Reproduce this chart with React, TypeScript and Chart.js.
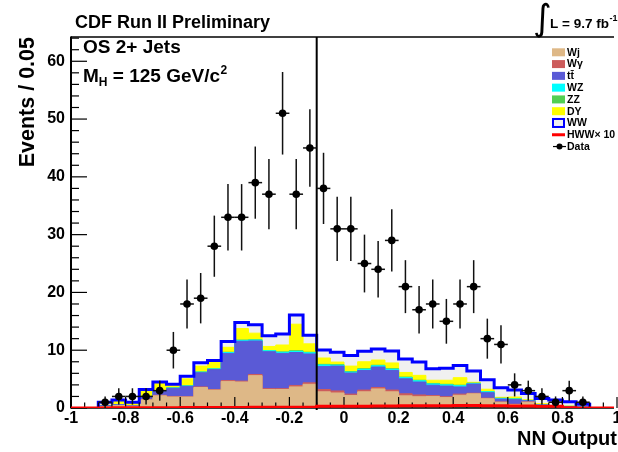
import React, { useEffect, useRef } from 'react';
import { Chart, registerables } from 'chart.js';

Chart.register(...registerables);

const FONT = "'Liberation Sans', Arial, Helvetica, sans-serif";

// ---- binning ----
const BIN_WIDTH = 0.05;
const STACK_FIRST_EDGE = -0.9; // left edge of first background bin
const HWW_FIRST_EDGE = -1.0;
const DATA_FIRST_CENTER = -0.875;
const CUT_VALUE = -0.1;

// ---- background expectations (events per bin), bins from -0.9 to 0.9 ----
const wjEvents = [0.2, 0.4, 0.3, 1.4, 2.1, 1.9, 1.9, 3.55, 3.1, 4.6, 4.5, 5.6, 3.2, 3.2, 3.65, 4.1, 2.8, 2.6, 2.15, 2.8, 3.3, 2.8, 2.1, 1.95, 2.0, 1.8, 2.2, 2.45, 1.6, 1.0, 0.6, 1.0, 0.2, 0.1, 0.1, 0.05];
const wgEvents = [0, 0.03, 0, 0.05, 0.1, 0.1, 0.05, 0.1, 0.1, 0.15, 0.15, 0.2, 0.15, 0.15, 0.25, 0.25, 0.4, 0.35, 0.25, 0.3, 0.25, 0.3, 0.35, 0.3, 0.15, 0.15, 0.2, 0.1, 0.1, 0.05, 0.05, 0.05, 0.02, 0, 0, 0];
const ttEvents = [0.2, 0.15, 0.1, 0.5, 0.7, 1.4, 1.8, 2.45, 3.45, 4.7, 6.9, 5.8, 6.4, 6.1, 5.7, 5.0, 4.0, 4.3, 3.65, 3.4, 3.55, 3.4, 2.6, 2.25, 1.8, 1.85, 1.25, 1.6, 0.95, 0.5, 0.8, 0.2, 0.3, 0.2, 0.15, 0.1];
const wzEvents = [0, 0, 0, 0.05, 0.05, 0.05, 0.05, 0.1, 0.1, 0.15, 0.15, 0.15, 0.15, 0.2, 0.2, 0.2, 0.25, 0.15, 0.15, 0.2, 0.2, 0.2, 0.2, 0.2, 0.2, 0.2, 0.2, 0.1, 0.15, 0.1, 0.1, 0.05, 0.05, 0.02, 0.02, 0.1];
const zzEvents = [0, 0, 0, 0.02, 0.05, 0.05, 0.05, 0.05, 0.05, 0.05, 0.05, 0.05, 0.05, 0.05, 0.1, 0.1, 0.1, 0.1, 0.1, 0.1, 0.1, 0.1, 0.1, 0.1, 0.1, 0.1, 0.1, 0.05, 0.05, 0.05, 0.05, 0.02, 0.03, 0.02, 0.02, 0.02];
const dyEvents = [0.1, 0.65, 0.4, 1.0, 1.3, 0.4, 1.2, 1.0, 1.2, 0.85, 2.0, 1.15, 0.7, 1.2, 4.6, 1.45, 1.1, 0.45, 0.95, 1.2, 0.9, 1.0, 0.8, 0.85, 0.55, 0.7, 1.3, 0.15, 0.4, 0.15, 0.3, 0.1, 0.15, 0.05, 0.05, 0];
const wwEvents = [0.5, 0.17, 0.2, 0.18, 0.2, 0.2, 0.45, 0.6, 0.2, 1.0, 1.05, 1.45, 1.85, 1.9, 1.6, 1.5, 1.4, 1.7, 1.85, 1.8, 1.9, 2.05, 2.35, 2.3, 2.0, 2.1, 2.1, 1.95, 1.65, 1.65, 1.2, 1.08, 0.91, 0.98, 0.75, 0.36];

// ---- signal x10, bins from -1 to 1 ----
const hwwX10Events = [0, 0, 0.02, 0.03, 0.03, 0.05, 0.06, 0.06, 0.07, 0.08, 0.08, 0.1, 0.1, 0.12, 0.12, 0.12, 0.15, 0.15, 0.3, 0.3, 0.3, 0.32, 0.33, 0.35, 0.38, 0.38, 0.4, 0.4, 0.42, 0.42, 0.4, 0.38, 0.35, 0.35, 0.3, 0.3, 0.03, 0.02, 0, 0];

// ---- observed data, bin centers from -0.875 ----
const dataEvents = [1, 2, 2, 2, 3, 10, 18, 19, 28, 33, 33, 39, 37, 51, 37, 45, 38, 31, 31, 25, 24, 29, 21, 17, 18, 15, 18, 21, 12, 11, 4, 3, 2, 1, 3, 1];

// ---- axes ----
const X_MIN = -1;
const X_MAX = 0.989; // plot is cut at the right border of the picture
const Y_MAX = 64.2;
const xTickValues = [-1, -0.8, -0.6, -0.4, -0.2, 0, 0.2, 0.4, 0.6, 0.8, 1];
const xTickLabels = ['-1', '-0.8', '-0.6', '-0.4', '-0.2', '0', '0.2', '0.4', '0.6', '0.8', '1'];
const yTickValues = [0, 10, 20, 30, 40, 50, 60];
const yTickLabels = ['0', '10', '20', '30', '40', '50', '60'];

// ---- legend ----
const legendNames = ['Wj', 'Wγ', 'tt̄', 'WZ', 'ZZ', 'DY', 'WW', 'HWW× 10', 'Data'];
const COLORS = {
  wj: '#deb887',
  wg: '#cc5c5c',
  tt: '#5a5ad6',
  wz: '#00ffff',
  zz: '#52cf52',
  dy: '#ffff00',
  wwFill: '#f0f0f0',
  wwLine: '#0000ff',
  hww: '#ff0000',
};

const DATA_INDEX = 0;
const HWW_INDEX = 1;

function stackedPoints(values: number[]) {
  const pts: { x: number; y: number }[] = [{ x: STACK_FIRST_EDGE, y: 0 }];
  values.forEach((v, i) => pts.push({ x: STACK_FIRST_EDGE + i * BIN_WIDTH, y: v }));
  pts.push({ x: STACK_FIRST_EDGE + values.length * BIN_WIDTH, y: 0 });
  return pts;
}

function cumulative(layers: number[][]) {
  const out: number[][] = [];
  layers.forEach((layer, k) => {
    out.push(layer.map((v, i) => v + (k > 0 ? out[k - 1][i] : 0)));
  });
  return out;
}

function line(ctx: CanvasRenderingContext2D, x1: number, y1: number, x2: number, y2: number) {
  ctx.beginPath();
  ctx.moveTo(x1, y1);
  ctx.lineTo(x2, y2);
  ctx.stroke();
}

const decorPlugin = {
  id: 'cdfDecor',
  beforeDatasetDraw(chart: any, args: any) {
    const ctx: CanvasRenderingContext2D = chart.ctx;
    const xs = chart.scales.x;
    const ys = chart.scales.y;
    const { left, right, top, bottom } = chart.chartArea;
    if (args.index === HWW_INDEX) {
      ctx.save();
      ctx.strokeStyle = '#000';
      // cut line
      ctx.lineWidth = 2;
      const xc = xs.getPixelForValue(CUT_VALUE);
      line(ctx, xc, top, xc, bottom + 2);
      // frame
      ctx.lineWidth = 1.5;
      line(ctx, left, top, right, top);
      line(ctx, left, bottom, right, bottom);
      ctx.lineWidth = 2;
      line(ctx, left, top - 0.5, left, bottom + 0.5);
      // y ticks (inward)
      ctx.lineWidth = 1.2;
      for (let v = 0; v <= Y_MAX; v += 2) {
        const y = ys.getPixelForValue(v);
        const len = v % 10 === 0 ? 16 : 8;
        line(ctx, left, y, left + len, y);
      }
      // x ticks (inward)
      for (let i = 0; i <= 40; i++) {
        const x = xs.getPixelForValue(X_MIN + i * BIN_WIDTH);
        const len = i % 4 === 0 ? 11 : 5.5;
        line(ctx, x, bottom, x, bottom - len);
      }
      ctx.restore();
    }
    if (args.index === DATA_INDEX) {
      ctx.save();
      ctx.strokeStyle = '#111';
      ctx.lineWidth = 1.5;
      dataEvents.forEach((v, i) => {
        if (v <= 0) return;
        const c = DATA_FIRST_CENTER + i * BIN_WIDTH;
        const e = Math.sqrt(v);
        const x = xs.getPixelForValue(c);
        const y = ys.getPixelForValue(v);
        line(ctx, x, ys.getPixelForValue(v - e), x, ys.getPixelForValue(v + e));
        line(ctx, xs.getPixelForValue(c - BIN_WIDTH / 2), y, xs.getPixelForValue(c + BIN_WIDTH / 2), y);
      });
      ctx.restore();
    }
  },
  afterDraw(chart: any) {
    const ctx: CanvasRenderingContext2D = chart.ctx;
    ctx.save();
    ctx.fillStyle = '#000';
    ctx.textAlign = 'left';
    ctx.textBaseline = 'alphabetic';
    // title
    ctx.font = `bold 18px ${FONT}`;
    ctx.fillText('CDF Run II Preliminary', 75, 28);
    // luminosity
    ctx.font = `36px 'DejaVu Sans'`;
    ctx.fillText('∫', 533, 30);
    ctx.font = `bold 13.5px ${FONT}`;
    ctx.fillText('L = 9.7 fb', 550, 28);
    const wl = ctx.measureText('L = 9.7 fb').width;
    ctx.font = `bold 9px ${FONT}`;
    ctx.fillText('-1', 550 + wl + 0.5, 21);
    // channel labels
    ctx.font = `bold 19px ${FONT}`;
    ctx.fillText('OS 2+ Jets', 83, 52.5);
    ctx.fillText('M', 83, 81.5);
    let x = 83 + ctx.measureText('M').width;
    ctx.font = `bold 12px ${FONT}`;
    ctx.fillText('H', x, 85.5);
    x += ctx.measureText('H').width;
    ctx.font = `bold 19px ${FONT}`;
    ctx.fillText(' = 125 GeV/c', x, 81.5);
    x += ctx.measureText(' = 125 GeV/c').width;
    ctx.font = `bold 12px ${FONT}`;
    ctx.fillText('2', x + 0.5, 73.5);
    // axis titles
    ctx.font = `bold 20px ${FONT}`;
    ctx.textAlign = 'right';
    ctx.fillText('NN Output', 617, 445);
    ctx.save();
    ctx.font = `bold 21.5px ${FONT}`;
    ctx.translate(33.5, 37);
    ctx.rotate(-Math.PI / 2);
    ctx.textAlign = 'right';
    ctx.fillText('Events / 0.05', 0, 0);
    ctx.restore();
    // legend
    const fills = [COLORS.wj, COLORS.wg, COLORS.tt, COLORS.wz, COLORS.zz, COLORS.dy];
    ctx.textAlign = 'left';
    ctx.textBaseline = 'middle';
    ctx.font = `bold 10.5px ${FONT}`;
    legendNames.forEach((name, i) => {
      const yc = 52.3 + i * 11.78;
      if (i < fills.length) {
        ctx.fillStyle = fills[i];
        ctx.fillRect(552, yc - 4, 13, 8);
      } else if (i === 6) {
        ctx.fillStyle = COLORS.wwFill;
        ctx.fillRect(553, yc - 4, 11, 8);
        ctx.strokeStyle = COLORS.wwLine;
        ctx.lineWidth = 2;
        ctx.strokeRect(553, yc - 4, 11, 8);
      } else if (i === 7) {
        ctx.strokeStyle = COLORS.hww;
        ctx.lineWidth = 3;
        line(ctx, 552, yc, 565, yc);
      } else {
        ctx.strokeStyle = '#000';
        ctx.lineWidth = 1.2;
        line(ctx, 553, yc, 566, yc);
        ctx.fillStyle = '#000';
        ctx.beginPath();
        ctx.arc(559.5, yc, 3, 0, Math.PI * 2);
        ctx.fill();
      }
      ctx.fillStyle = '#000';
      ctx.fillText(name, 567, yc + 0.5);
    });
    ctx.restore();
  },
};

export default function App() {
  const canvasRef = useRef<HTMLCanvasElement>(null);

  useEffect(() => {
    document.body.style.margin = '0';
    const canvas = canvasRef.current;
    if (!canvas) return;

    const [cWj, cWg, cTt, cWz, cZz, cDy, cWw] = cumulative([
      wjEvents, wgEvents, ttEvents, wzEvents, zzEvents, dyEvents, wwEvents,
    ]);

    const fillSet = (label: string, values: number[], color: string, order: number) => ({
      label,
      data: stackedPoints(values),
      stepped: true,
      fill: 'origin',
      backgroundColor: color,
      borderColor: color,
      borderWidth: 1,
      pointRadius: 0,
      order,
    });

    const hwwPoints = hwwX10Events.map((v, i) => ({ x: HWW_FIRST_EDGE + i * BIN_WIDTH, y: v }));
    hwwPoints.push({ x: HWW_FIRST_EDGE + hwwX10Events.length * BIN_WIDTH, y: hwwX10Events[hwwX10Events.length - 1] });

    const datasets: any[] = [
      {
        label: 'Data',
        data: dataEvents.map((v, i) => ({ x: DATA_FIRST_CENTER + i * BIN_WIDTH, y: v })),
        showLine: false,
        pointRadius: 3.8,
        pointBackgroundColor: '#000',
        pointBorderColor: '#000',
        pointBorderWidth: 0,
        order: 0,
      },
      {
        label: 'HWW x 10',
        data: hwwPoints,
        stepped: true,
        fill: false,
        borderColor: COLORS.hww,
        borderWidth: 3,
        pointRadius: 0,
        order: 1,
      },
      {
        label: 'WW outline',
        data: stackedPoints(cWw),
        stepped: true,
        fill: false,
        borderColor: COLORS.wwLine,
        borderWidth: 3,
        pointRadius: 0,
        order: 2,
      },
      fillSet('Wj', cWj, COLORS.wj, 3),
      fillSet('Wγ', cWg, COLORS.wg, 4),
      fillSet('tt', cTt, COLORS.tt, 5),
      fillSet('WZ', cWz, COLORS.wz, 6),
      fillSet('ZZ', cZz, COLORS.zz, 7),
      fillSet('DY', cDy, COLORS.dy, 8),
      {
        label: 'WW',
        data: stackedPoints(cWw),
        stepped: true,
        fill: 'origin',
        backgroundColor: COLORS.wwFill,
        borderColor: COLORS.wwFill,
        borderWidth: 1,
        pointRadius: 0,
        order: 9,
      },
    ];

    const tickFont = { family: FONT, size: 16, weight: 'bold' as const };

    const chart = new Chart(canvas, {
      type: 'line',
      data: { datasets },
      options: {
        animation: false,
        responsive: false,
        devicePixelRatio: 1,
        events: [],
        layout: { padding: { top: 37, left: 0, right: 0, bottom: 0 } },
        elements: { line: { tension: 0 } },
        plugins: {
          legend: { display: false },
          tooltip: { enabled: false },
          title: { display: false },
        },
        scales: {
          x: {
            type: 'linear',
            min: X_MIN,
            max: X_MAX,
            offset: false,
            grid: { display: false, drawTicks: false },
            border: { display: false },
            afterBuildTicks: (scale: any) => {
              scale.ticks = xTickValues.map((v) => ({ value: v }));
            },
            afterFit: (scale: any) => {
              scale.height = 44;
              scale.paddingLeft = 0;
              scale.paddingRight = 0;
            },
            ticks: {
              autoSkip: false,
              maxRotation: 0,
              minRotation: 0,
              padding: 1,
              color: '#000',
              font: tickFont,
              callback: (_v: any, i: number) => xTickLabels[i],
            },
          },
          y: {
            type: 'linear',
            min: 0,
            max: Y_MAX,
            grid: { display: false, drawTicks: false },
            border: { display: false },
            afterBuildTicks: (scale: any) => {
              scale.ticks = yTickValues.map((v) => ({ value: v }));
            },
            afterFit: (scale: any) => {
              scale.width = 71;
              scale.paddingTop = 0;
              scale.paddingBottom = 0;
            },
            ticks: {
              autoSkip: false,
              padding: 6,
              color: '#000',
              font: tickFont,
              callback: (_v: any, i: number) => yTickLabels[i],
            },
          },
        },
      } as any,
      plugins: [decorPlugin],
    });

    return () => chart.destroy();
  }, []);

  return (
    <div style={{ width: 618, height: 452, background: '#fff' }}>
      <canvas ref={canvasRef} width={618} height={452} style={{ display: 'block', width: 618, height: 452 }} />
    </div>
  );
}
